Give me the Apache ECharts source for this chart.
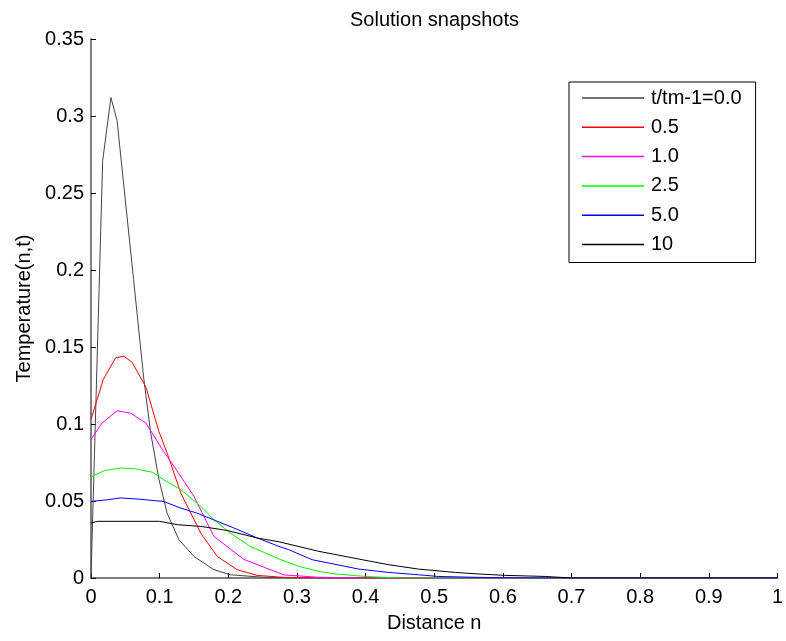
<!DOCTYPE html>
<html>
<head>
<meta charset="utf-8">
<script src="https://cdn.jsdelivr.net/npm/echarts@6/dist/echarts.min.js"></script>
<style>html,body{margin:0;padding:0;background:#fff}#c{width:786px;height:641px}</style>
</head>
<body>
<div id="c"></div>
<script>
const seriesNames = ['t/tm-1=0.0', '0.5', '1.0', '2.5', '5.0', '10'];
const xTickLabels = ['0','0.1','0.2','0.3','0.4','0.5','0.6','0.7','0.8','0.9','1'];
const yTickLabels = ['0','0.05','0.1','0.15','0.2','0.25','0.3','0.35'];

const x00 = [0, 0.017, 0.029, 0.038, 0.051, 0.062, 0.077, 0.087, 0.099, 0.111, 0.128, 0.150, 0.179, 0.203, 0.25, 0.3, 1.0];
const y00 = [0, 0.271, 0.312, 0.297, 0.241, 0.194, 0.129, 0.094, 0.064, 0.042, 0.0249, 0.014, 0.0054, 0.0021, 0.0005, 0, 0];

const x05 = [0, 0.018, 0.036, 0.048, 0.060, 0.080, 0.099, 0.111, 0.131, 0.160, 0.184, 0.213, 0.242, 0.281, 0.35, 1.0];
const y05 = [0.103, 0.129, 0.143, 0.144, 0.140, 0.124, 0.095, 0.081, 0.055, 0.029, 0.014, 0.0054, 0.0017, 0.0004, 0, 0];

const x10 = [0, 0.016, 0.038, 0.058, 0.080, 0.106, 0.121, 0.150, 0.179, 0.223, 0.281, 0.33, 0.4, 1.0];
const y10 = [0.09, 0.1006, 0.1086, 0.107, 0.1006, 0.082, 0.0725, 0.053, 0.027, 0.012, 0.002, 0.0005, 0, 0];

const x25 = [0, 0.019, 0.043, 0.063, 0.090, 0.106, 0.131, 0.160, 0.179, 0.203, 0.232, 0.274, 0.303, 0.332, 0.356, 0.400, 0.45, 1.0];
const y25 = [0.0656, 0.0697, 0.0714, 0.071, 0.0686, 0.0638, 0.0573, 0.0465, 0.0379, 0.0292, 0.0205, 0.0123, 0.0075, 0.0043, 0.0026, 0.001, 0, 0];

const x50 = [0, 0.024, 0.043, 0.067, 0.106, 0.130, 0.154, 0.184, 0.208, 0.242, 0.274, 0.288, 0.322, 0.390, 0.434, 0.477, 0.506, 0.565, 0.65, 1.0];
const y50 = [0.0497, 0.0508, 0.052, 0.0513, 0.0497, 0.0455, 0.0422, 0.0368, 0.0325, 0.026, 0.0205, 0.0184, 0.0119, 0.0058, 0.0036, 0.0021, 0.001, 0.0004, 0, 0];

const x100 = [0, 0.009, 0.1, 0.126, 0.160, 0.198, 0.242, 0.274, 0.332, 0.390, 0.434, 0.477, 0.531, 0.565, 0.604, 0.662, 0.7, 1.0];
const y100 = [0.0357, 0.0368, 0.0368, 0.0346, 0.0335, 0.0309, 0.026, 0.0235, 0.0173, 0.0123, 0.0086, 0.0058, 0.0036, 0.0026, 0.0017, 0.001, 0, 0];

const xs = [x00, x05, x10, x25, x50, x100];
const ys = [y00, y05, y10, y25, y50, y100];
const colors = ['#444444', '#ff0000', '#ff00ff', '#00ff00', '#0000ff', '#000000'];

const FONT = '"Liberation Sans", Arial, sans-serif';

const chart = echarts.init(document.getElementById('c'), null, {renderer: 'canvas'});
chart.setOption({
  animation: false,
  backgroundColor: '#ffffff',
  title: {
    text: 'Solution snapshots',
    left: 345, top: 5,
    textStyle: {fontFamily: FONT, fontSize: 20, fontWeight: 'normal', color: '#000'}
  },
  grid: {left: 91, right: 7, top: 39, bottom: 63, containLabel: false},
  legend: {
    data: seriesNames,
    orient: 'vertical',
    left: 569, top: 82,
    padding: [6, 14, 8, 13],
    itemGap: 9.3,
    itemWidth: 62, itemHeight: 1.5,
    icon: 'rect',
    borderColor: '#000', borderWidth: 1,
    textStyle: {fontFamily: FONT, fontSize: 20, color: '#000', lineHeight: 20, padding: [0, 0, 0, 2]}
  },
  xAxis: {
    type: 'value', min: 0, max: 1, interval: 0.1,
    name: 'Distance n', nameLocation: 'middle', nameGap: 35,
    nameTextStyle: {fontFamily: FONT, fontSize: 20, color: '#000'},
    axisLine: {show: true, lineStyle: {color: '#808080', width: 2}},
    axisTick: {show: true, inside: true, length: 5, lineStyle: {color: '#000'}},
    axisLabel: {fontFamily: FONT, fontSize: 20, color: '#000', margin: 9,
      formatter: (v) => xTickLabels[Math.round(v * 10)]},
    splitLine: {show: false}
  },
  yAxis: {
    type: 'value', min: 0, max: 0.35, interval: 0.05,
    name: 'Temperature(n,t)', nameLocation: 'middle', nameGap: 55,
    nameTextStyle: {fontFamily: FONT, fontSize: 20, color: '#000'},
    axisLine: {show: true, lineStyle: {color: '#808080', width: 2}},
    axisTick: {show: true, inside: true, length: 5, lineStyle: {color: '#000'}},
    axisLabel: {fontFamily: FONT, fontSize: 20, color: '#000', margin: 7,
      formatter: (v) => yTickLabels[Math.round(v * 20)]},
    splitLine: {show: false}
  },
  series: seriesNames.map((n, i) => ({
    name: n,
    type: 'line',
    data: xs[i].map((x, j) => [x, ys[i][j]]),
    showSymbol: false, symbol: 'none',
    smooth: false,
    color: colors[i],
    itemStyle: {color: colors[i]},
    lineStyle: {color: colors[i], width: 1},
    z: 2 + i
  }))
});
</script>
</body>
</html>
